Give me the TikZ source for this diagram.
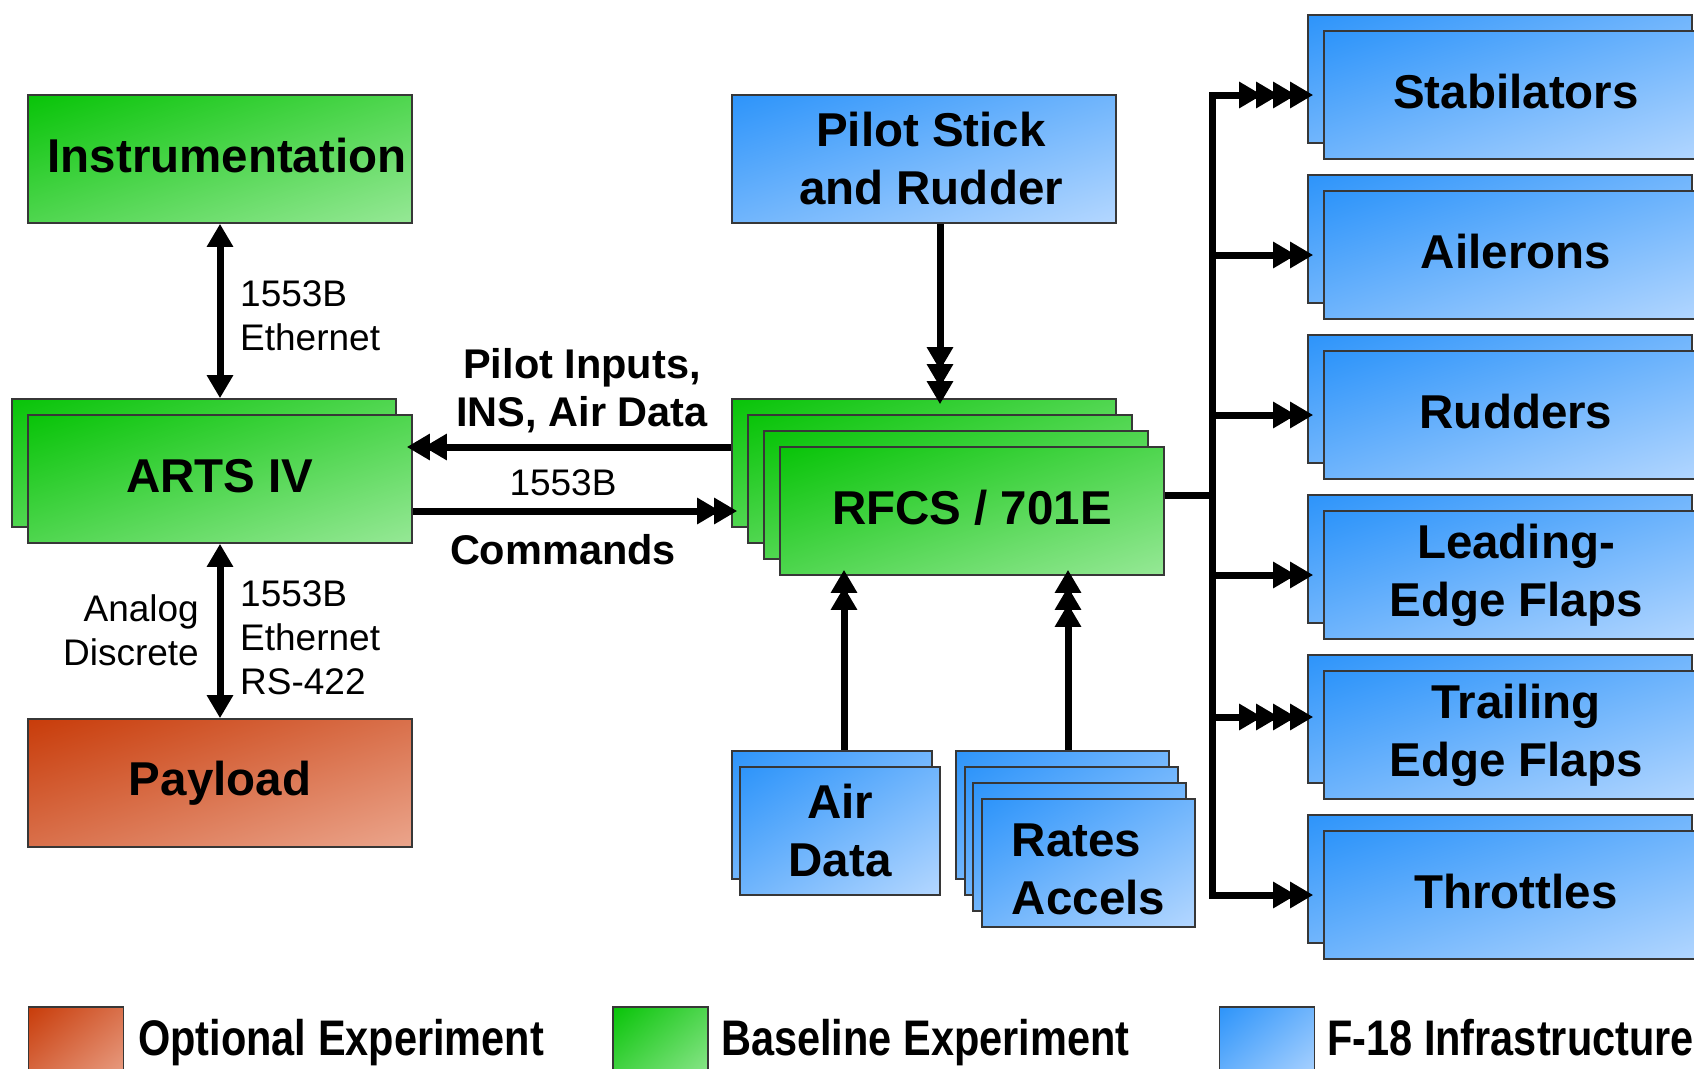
\documentclass[tikz,border=0pt]{standalone}
\usepackage{fontspec}
\usepackage{graphicx}
\setmainfont{Liberation Sans}
\usetikzlibrary{arrows.meta,shadings}
\definecolor{gTL}{RGB}{8,196,8}
\definecolor{gBR}{RGB}{150,232,150}
\definecolor{gM}{RGB}{79,214,79}
\definecolor{bTL}{RGB}{45,148,250}
\definecolor{bBR}{RGB}{180,215,255}
\definecolor{bM}{RGB}{112,181,252}
\definecolor{rTL}{RGB}{200,60,10}
\definecolor{rBR}{RGB}{235,165,140}
\definecolor{rM}{RGB}{217,112,75}
\definecolor{edge}{RGB}{55,55,55}
\newcommand\bigbold{\fontsize{47.5}{58}\selectfont\bfseries}
\newcommand\lblbold{\fontsize{41.5}{48}\selectfont\bfseries}
\newcommand\lblreg{\fontsize{37}{44}\selectfont}
\newcommand\legfont{\fontsize{50}{58}\selectfont\bfseries}
\begin{document}
\begin{tikzpicture}[x=1pt,y=-1pt,
  box/.style={draw=edge, line width=1.6pt, minimum width=384pt, minimum height=128pt, inner sep=0pt, align=center, font=\bigbold},
  up3/.style={text depth=6.5pt},
  gbox/.style={upper left=gTL, lower right=gBR, upper right=gM, lower left=gM},
  bbox/.style={upper left=bTL, lower right=bBR, upper right=bM, lower left=bM},
  rbox/.style={upper left=rTL, lower right=rBR, upper right=rM, lower left=rM},
  legbox/.style={draw=edge, line width=1.6pt, minimum width=95pt, minimum height=80pt, inner sep=0pt},
  lreg/.style={font=\lblreg, inner sep=0pt},
  lbold/.style={font=\lblbold, inner sep=0pt},
  leg/.style={font=\legfont, inner sep=0pt},
  conn/.style={line width=7pt, draw=black},
  bi/.style={conn, {Triangle[length=23pt,width=25pt]}-{Triangle[length=23pt,width=25pt]}},
  two/.style={conn, -{Triangle[length=23pt,width=25pt,sep=-6pt]Triangle[length=23pt,width=25pt,sep=-6pt]}},
  three/.style={conn, -{Triangle[length=23pt,width=25pt,sep=-6pt]Triangle[length=23pt,width=25pt,sep=-6pt]Triangle[length=23pt,width=25pt,sep=-6pt]}},
  four/.style={conn, -{Triangle[length=23pt,width=25pt,sep=-6pt]Triangle[length=23pt,width=25pt,sep=-6pt]Triangle[length=23pt,width=25pt,sep=-6pt]Triangle[length=23pt,width=25pt,sep=-6pt]}}
]
\useasboundingbox (0,0) rectangle (1694,1068);
\clip (0,0) rectangle (1694,1068);

% left column
\node[box,gbox,up3] (inst) at (220,159) {\hspace*{14pt}Instrumentation};
\node[box,gbox] (arts1) at (204,463) {};
\node[box,gbox,up3] (arts2) at (220,479) {ARTS IV};
\node[box,rbox] (pay) at (220,783) {Payload};

% centre column
\node[box,bbox] (pilot) at (924,159) {\hspace*{14pt}Pilot Stick\\\hspace*{14pt}and Rudder};
\node[box,gbox] (rfcs1) at (924,463) {};
\node[box,gbox] (rfcs2) at (940,479) {};
\node[box,gbox] (rfcs3) at (956,495) {};
\node[box,gbox,up3] (rfcs4) at (972,511) {RFCS / 701E};
\node[box,bbox,minimum width=200pt] (air1) at (832,815) {};
\node[box,bbox,minimum width=200pt] (air2) at (840,831) {Air\\Data};
\node[box,bbox,minimum width=213pt] (rat1) at (1062.5,815) {};
\node[box,bbox,minimum width=213pt] (rat2) at (1071.5,831) {};
\node[box,bbox,minimum width=213pt] (rat3) at (1079.5,847) {};
\node[box,bbox,minimum width=213pt,
  label={[font=\bigbold,align=left,inner sep=0pt,yshift=-6pt]center:Rates\\Accels}] (rat4) at (1088.5,863) {};

% right column
\node[box,bbox] (st1) at (1500,79) {};
\node[box,bbox,up3] (st2) at (1516,95) {Stabilators};
\node[box,bbox] (ai1) at (1500,239) {};
\node[box,bbox,up3] (ai2) at (1516,255) {Ailerons};
\node[box,bbox] (ru1) at (1500,399) {};
\node[box,bbox,up3] (ru2) at (1516,415) {Rudders};
\node[box,bbox] (le1) at (1500,559) {};
\node[box,bbox] (le2) at (1516,575) {Leading-\\Edge Flaps};
\node[box,bbox] (tr1) at (1500,719) {};
\node[box,bbox] (tr2) at (1516,735) {Trailing\\Edge Flaps};
\node[box,bbox] (th1) at (1500,879) {};
\node[box,bbox,up3] (th2) at (1516,895) {Throttles};

% connectors left
\draw[bi] (inst.south) -- (arts1.north -| inst.south);
\draw[bi] (arts2.south) -- (pay.north);
\coordinate (up) at ([yshift=16pt]rfcs1.west);
\draw[two] (up) -- (up -| arts2.east);
\draw[two] (arts2.east |- rfcs4.west) -- (rfcs4.west -| rfcs1.west);

% connectors centre
\draw[three] (pilot.south -| rfcs2.north) -- (rfcs2.north |- rfcs1.north);
\coordinate (ad) at ([xshift=12pt]air1.north);
\draw[two] (ad) -- (ad |- rfcs4.south);
\coordinate (rt) at ([xshift=5.5pt]rat1.north);
\draw[three] (rt) -- (rt |- rfcs4.south);

% bus
\coordinate (bt) at (1212,95);
\coordinate (bb) at (1212,895);
\draw[conn, line cap=rect] (bt) -- (bb);
\draw[conn] (rfcs4.east |- rfcs3.east) -- (rfcs3.east -| bt);
\draw[four] (st2.west -| bt) -- (st2.west -| st1.west);
\draw[two] (ai2.west -| bt) -- (ai2.west -| ai1.west);
\draw[two] (ru2.west -| bt) -- (ru2.west -| ru1.west);
\draw[two] (le2.west -| bt) -- (le2.west -| le1.west);
\draw[four] ([yshift=2pt]tr1.west -| bt) -- ([yshift=2pt]tr1.west);
\draw[two] (th2.west -| bt) -- (th2.west -| th1.west);

% labels
\node[lreg, anchor=west, align=left] (l1) at (240,316) {1553B\\Ethernet};
\node[lbold, align=center] (l2) at (582,391) {Pilot Inputs,\\INS, Air Data};
\node[lreg] (l3) at (563,483) {1553B};
\node[lbold] (l4) at (563,550) {Commands};
\node[lreg, anchor=east, align=right] (l5) at (199,630) {Analog\\Discrete};
\node[lreg, anchor=west, align=left] (l6) at (240,638) {1553B\\Ethernet\\RS-422};

% legend
\node[legbox,rbox] (k1) at (76,1047) {};
\node[legbox,gbox] (k2) at (660.5,1047) {};
\node[legbox,bbox] (k3) at (1267,1047) {};
\node[leg, anchor=base west] (t1) at (138,1055) {\scalebox{0.83}[1]{Optional Experiment}};
\node[leg, anchor=base west] (t2) at (721,1055) {\scalebox{0.83}[1]{Baseline Experiment}};
\node[leg, anchor=base west] (t3) at (1327,1055) {\scalebox{0.83}[1]{F-18 Infrastructure}};
\end{tikzpicture}
\end{document}
